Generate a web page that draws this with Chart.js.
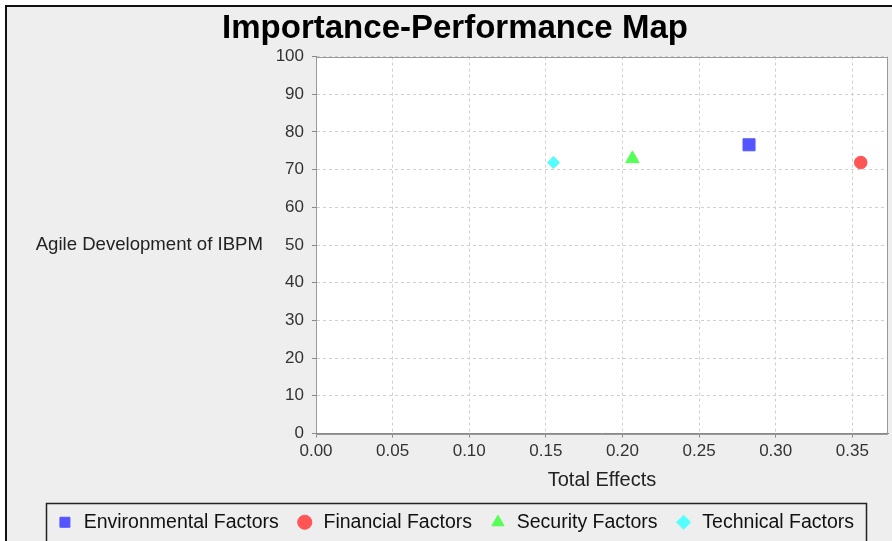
<!DOCTYPE html>
<html>
<head>
<meta charset="utf-8">
<script src="https://cdn.jsdelivr.net/npm/chart.js@4/dist/chart.umd.min.js"></script>
<style>
  html, body { margin: 0; padding: 0; background: #fff; overflow: hidden; width: 892px; height: 541px; }
  #frame { position: absolute; left: 5px; top: 5px; width: 1000px; height: 1000px;
           border-top: 2px solid #111; border-left: 2px solid #111; background: #eeeeee; }
  #wrap { position: absolute; left: 0; top: 0; width: 892px; height: 542px; }
</style>
</head>
<body>
<div id="frame"></div>
<div id="wrap"><canvas id="ipmap"></canvas></div>
<script>
// values
const seriesNames = ["Environmental Factors", "Financial Factors", "Security Factors", "Technical Factors"];
const totalEffects = [0.2826, 0.3555, 0.2065, 0.155];
const performance = [76.6, 71.9, 72.9, 71.9];
const xTicks = [0, 0.05, 0.10, 0.15, 0.20, 0.25, 0.30, 0.35];
const yTicks = [0, 10, 20, 30, 40, 50, 60, 70, 80, 90, 100];

const colors = ["#5555ff", "#ff5555", "#55ff55", "#55ffff"];
const shapes = ["rect", "circle", "triangle", "rectRot"];
const sizes = [8.5, 6.3, 7.8, 6];

const FONT = "'Liberation Sans', Arial, sans-serif";

const datasets = seriesNames.map((name, i) => ({
  label: name,
  data: [{ x: totalEffects[i], y: performance[i] }],
  backgroundColor: colors[i],
  borderColor: colors[i],
  borderWidth: 1,
  pointStyle: shapes[i],
  pointRadius: sizes[i],
  pointHoverRadius: sizes[i]
}));

// white plot area, grey plot border, boxed legend, horizontal y title
const decor = {
  id: "decor",
  beforeDraw(chart) {
    const a = chart.chartArea, ctx = chart.ctx;
    ctx.save();
    ctx.fillStyle = "#ffffff";
    ctx.fillRect(a.left, a.top, a.right - a.left, a.bottom - a.top);
    ctx.restore();
  },
  afterDraw(chart) {
    const a = chart.chartArea, ctx = chart.ctx;
    ctx.save();
    ctx.strokeStyle = "#999";
    ctx.lineWidth = 1;
    ctx.strokeRect(Math.round(a.left) + 0.5, Math.round(a.top) + 0.5,
      Math.round(a.right - a.left) - 1, Math.round(a.bottom - a.top));

    ctx.fillStyle = "#222";
    ctx.font = "18.6px " + FONT;
    ctx.textAlign = "right";
    ctx.textBaseline = "middle";
    ctx.fillText("Agile Development of IBPM", 263, (a.top + a.bottom) / 2);

    const lg = chart.legend;
    if (lg && lg.legendHitBoxes.length) {
      const boxes = lg.legendHitBoxes;
      const l = Math.min(...boxes.map(b => b.left)) - 10;
      const r = Math.max(...boxes.map(b => b.left + b.width)) + 12;
      const cy = boxes[0].top + boxes[0].height / 2;
      ctx.strokeStyle = "#222";
      ctx.lineWidth = 1.5;
      ctx.strokeRect(Math.round(l) + 0.5, Math.round(cy - 19) + 0.5, Math.round(r - l), 60);
    }
    ctx.restore();
  }
};

new Chart(document.getElementById("ipmap"), {
  type: "scatter",
  data: { datasets },
  plugins: [decor],
  options: {
    responsive: true,
    maintainAspectRatio: false,
    animation: false,
    layout: { autoPadding: false, padding: { left: 22, right: 4, top: 9, bottom: 0 } },
    plugins: {
      title: {
        display: true,
        text: "Importance-Performance Map",
        color: "#000",
        font: { family: FONT, size: 33, weight: "bold" },
        padding: { top: 0, bottom: 8 }
      },
      legend: {
        position: "bottom",
        labels: {
          usePointStyle: true,
          boxWidth: 18,
          boxHeight: 10,
          padding: 17,
          color: "#111",
          font: { family: FONT, size: 19.5 }
        }
      },
      tooltip: { enabled: false }
    },
    scales: {
      x: {
        type: "linear",
        min: 0,
        max: 0.3733,
        afterBuildTicks: s => { s.ticks = xTicks.map(v => ({ value: v })); },
        afterFit: s => { s.height = 62; s.paddingRight = 0; },
        ticks: {
          color: "#333",
          padding: 4,
          font: { family: FONT, size: 17 },
          callback: v => Number(v).toFixed(2)
        },
        grid: { color: "#d0d0d0", tickColor: "#888", tickLength: 4, tickBorderDash: [] },
        border: { color: "#888", dash: [3, 3] },
        title: {
          display: true,
          text: "Total Effects",
          color: "#222",
          font: { family: FONT, size: 20 },
          padding: { top: 2, bottom: 3 }
        }
      },
      y: {
        type: "linear",
        min: 0,
        max: 100,
        afterBuildTicks: s => { s.ticks = yTicks.map(v => ({ value: v })); },
        afterFit: s => { s.width = 294; },
        ticks: {
          color: "#333",
          padding: 8,
          font: { family: FONT, size: 17 }
        },
        grid: { color: "#d0d0d0", tickColor: "#888", tickLength: 4, tickBorderDash: [] },
        border: { color: "#888", dash: [3, 3] }
      }
    }
  }
});
</script>
</body>
</html>
